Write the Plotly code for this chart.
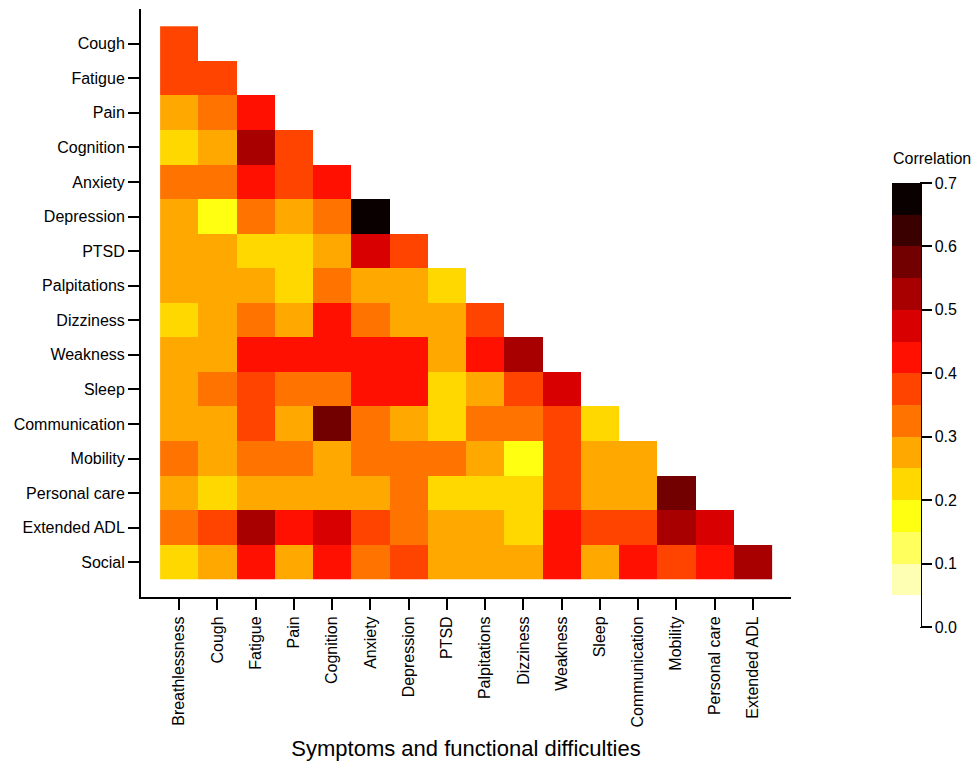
import plotly.graph_objects as go

x_labels = ["Breathlessness", "Cough", "Fatigue", "Pain", "Cognition", "Anxiety",
            "Depression", "PTSD", "Palpitations", "Dizziness", "Weakness", "Sleep",
            "Communication", "Mobility", "Personal care", "Extended ADL"]
y_labels = ["Cough", "Fatigue", "Pain", "Cognition", "Anxiety", "Depression", "PTSD",
            "Palpitations", "Dizziness", "Weakness", "Sleep", "Communication",
            "Mobility", "Personal care", "Extended ADL", "Social"]

# lower-triangle correlations, row i has i+1 values
r_cough = [0.38]
r_fatigue = [0.37, 0.38]
r_pain = [0.28, 0.33, 0.42]
r_cognition = [0.22, 0.27, 0.53, 0.38]
r_anxiety = [0.32, 0.33, 0.42, 0.37, 0.43]
r_depression = [0.27, 0.17, 0.32, 0.28, 0.33, 0.68]
r_ptsd = [0.27, 0.28, 0.23, 0.22, 0.27, 0.48, 0.37]
r_palpitations = [0.28, 0.27, 0.27, 0.22, 0.32, 0.28, 0.27, 0.22]
r_dizziness = [0.23, 0.27, 0.32, 0.27, 0.42, 0.33, 0.28, 0.27, 0.38]
r_weakness = [0.27, 0.28, 0.42, 0.43, 0.42, 0.42, 0.43, 0.28, 0.42, 0.53]
r_sleep = [0.27, 0.32, 0.37, 0.33, 0.32, 0.42, 0.42, 0.22, 0.28, 0.38, 0.47]
r_communication = [0.28, 0.27, 0.38, 0.27, 0.57, 0.32, 0.28, 0.22, 0.32, 0.33, 0.37, 0.22]
r_mobility = [0.33, 0.27, 0.32, 0.33, 0.28, 0.32, 0.33, 0.32, 0.27, 0.18, 0.37, 0.28, 0.27]
r_personal_care = [0.27, 0.22, 0.27, 0.28, 0.27, 0.28, 0.32, 0.23, 0.22, 0.22, 0.37, 0.28, 0.27, 0.58]
r_extended_adl = [0.32, 0.37, 0.52, 0.42, 0.47, 0.38, 0.33, 0.27, 0.28, 0.22, 0.42, 0.37, 0.38, 0.53, 0.48]
r_social = [0.22, 0.28, 0.42, 0.27, 0.43, 0.32, 0.37, 0.28, 0.27, 0.27, 0.42, 0.28, 0.43, 0.37, 0.42, 0.52]

rows = [r_cough, r_fatigue, r_pain, r_cognition, r_anxiety, r_depression, r_ptsd,
        r_palpitations, r_dizziness, r_weakness, r_sleep, r_communication,
        r_mobility, r_personal_care, r_extended_adl, r_social]

n = len(x_labels)
z = [row + [None] * (n - len(row)) for row in rows]

bin_colors = ["#ffffff", "#ffffb4", "#ffff5e", "#ffff12", "#ffd800", "#ffa800",
              "#ff7400", "#ff4400", "#ff1000", "#d80000", "#a80000", "#720000",
              "#3a0000", "#0a0000"]
nb = len(bin_colors)
colorscale = []
for i, c in enumerate(bin_colors):
    colorscale.append([i / nb, c])
    colorscale.append([(i + 1) / nb, c])

W, H = 975, 764
L, R, T, B = 141, 184, 9, 167
pw = W - L - R
ph = H - T - B

def px_x(p):
    return (p - L) / pw

def px_y(p):
    return (H - B - p) / ph

fig = go.Figure()
fig.add_trace(go.Heatmap(
    z=z, x=list(range(n)), y=list(range(len(y_labels))),
    zmin=0, zmax=0.7, colorscale=colorscale, hoverongaps=False,
    colorbar=dict(
        tickvals=[0, 0.1, 0.2, 0.3, 0.4, 0.5, 0.6, 0.7], tickformat=".1f",
        ticks="outside", ticklen=11, tickwidth=2, tickcolor="black",
        tickfont=dict(size=16, color="black"),
        outlinewidth=0, thickness=29, thicknessmode="pixels",
        lenmode="pixels", len=444, yanchor="top", y=px_y(183), ypad=0,
        xanchor="left", x=px_x(892), xpad=0,
    ),
))

fig.add_shape(type="line", xref="paper", yref="paper",
              x0=px_x(921), x1=px_x(921), y0=px_y(182), y1=px_y(628),
              line=dict(color="black", width=2))

fig.add_annotation(text="Correlation", xref="paper", yref="paper",
                   x=px_x(891), y=px_y(158), xanchor="left", yanchor="middle",
                   showarrow=False, font=dict(size=16, color="black"))

axis_common = dict(showgrid=False, zeroline=False, showline=True, linecolor="black",
                   linewidth=2, ticks="outside", ticklen=11, tickwidth=2,
                   tickcolor="black", tickfont=dict(size=16, color="black"))

fig.update_xaxes(range=[-1, 16], tickvals=list(range(n)), ticktext=x_labels,
                 tickangle=-90,
                 title=dict(text="Symptoms and functional difficulties",
                            font=dict(size=22, color="black"), standoff=14),
                 **axis_common)
fig.update_yaxes(range=[16, -1], tickvals=list(range(len(y_labels))), ticktext=y_labels,
                 **axis_common)

fig.update_layout(width=W, height=H, margin=dict(l=L, r=R, t=T, b=B, autoexpand=False),
                  plot_bgcolor="white", paper_bgcolor="white",
                  font=dict(family="Liberation Sans, Arial, sans-serif", color="black"))

fig.write_html("out.html")
